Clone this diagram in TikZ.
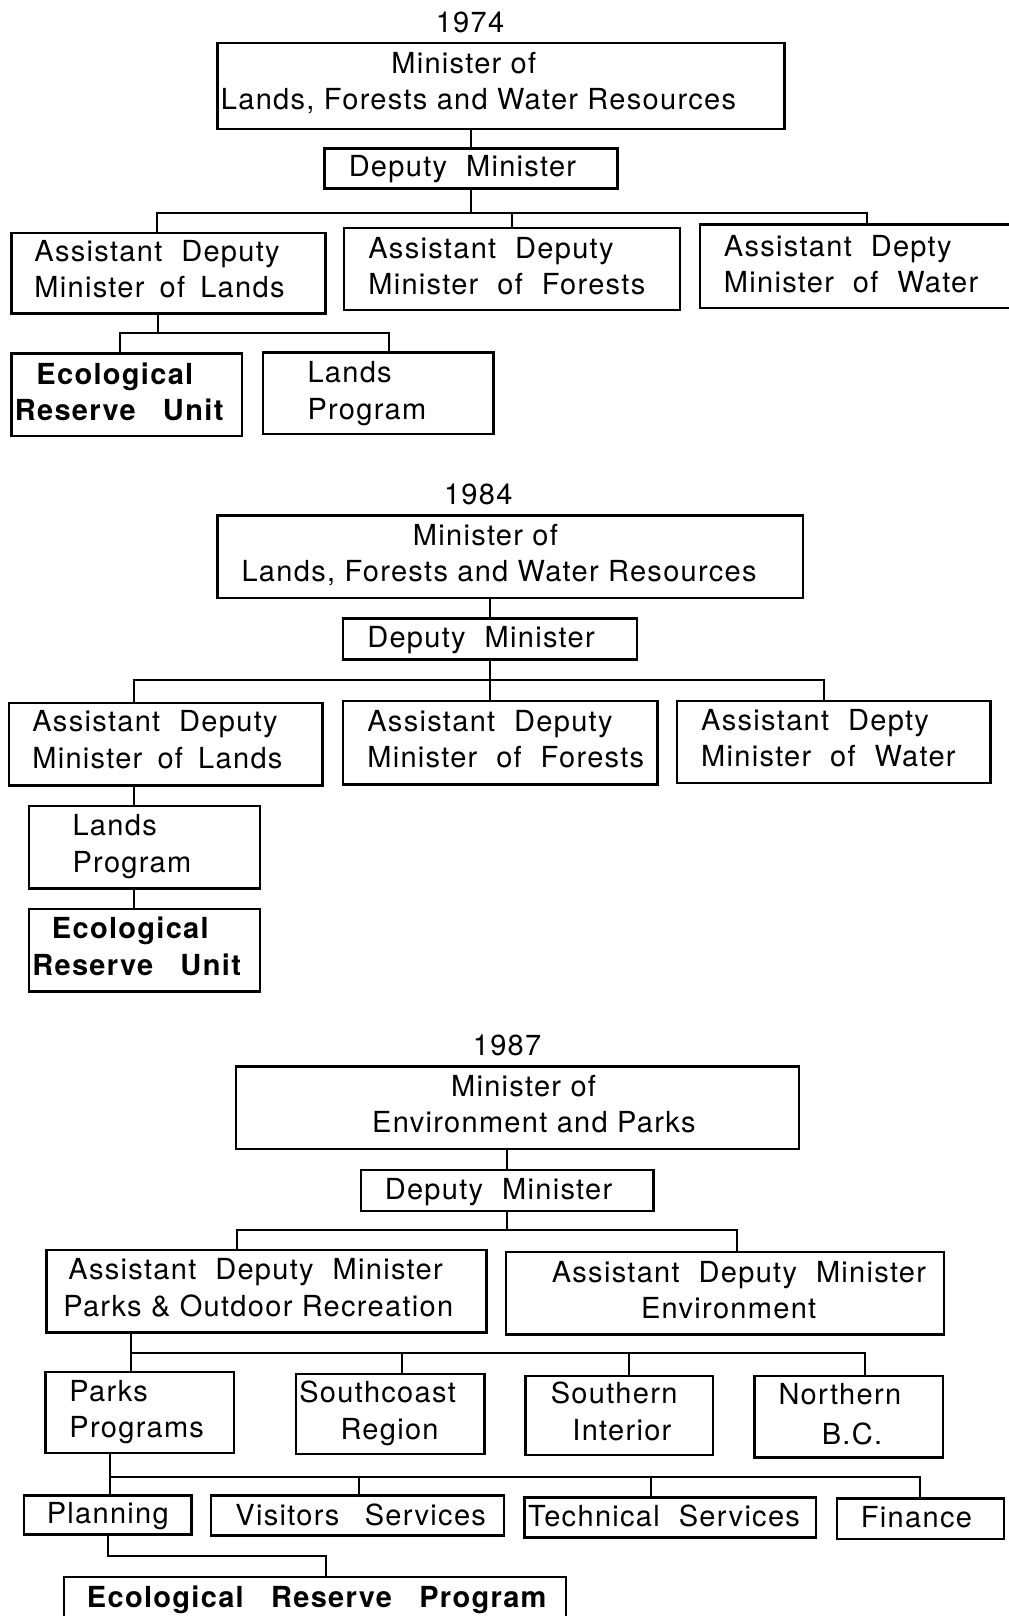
\documentclass[tikz,border=0pt]{standalone}
\usepackage{fontspec}
\setmainfont{TeX Gyre Heros}[LetterSpace=4.5]
\usetikzlibrary{fit}
\newcommand\gp{\hspace{0.33em}}
\newcommand\sgp{\hspace{0.2em}}
\newcommand\bgp{\hspace{0.62em}}
\newcommand\wgp{\hspace{0.55em}}
\newcommand\bx[5]{\node[box,fit={(#2,#3) (#4,#5)}] (#1) {};}
\begin{document}
\begin{tikzpicture}[x=0.5153pt,y=-0.5153pt,
  box/.style={draw,line width=1.2pt,inner sep=0pt},
  conn/.style={line width=1pt},
  txt/.style={inner sep=0pt,anchor=west,text height=10pt,text depth=0pt,font=\fontsize{14.5}{17}\selectfont},
  ctxt/.style={txt,anchor=center},
  btxt/.style={txt,font=\fontsize{14.5}{17}\selectfont\bfseries}]
\useasboundingbox (0,0) rectangle (979,1568);
\fill[white] (0,0) rectangle (979,1568);

% ---------------- 1974 ----------------
\node[ctxt] (y74) at (456,22) {1974};
\bx{m74}{211}{42}{761}{125}
\node[ctxt] (m74a) at (450,62) {Minister of};
\node[txt] (m74b) at (214,97) {Lands, Forests and Water Resources};
\bx{d74}{315}{144}{599}{183}
\node[txt] (d74a) at (338,162) {Deputy\gp{} Minister};
\bx{a74l}{11}{226}{316}{304}
\node[txt] (a74la) at (33,244) {Assistant\gp{} Deputy};
\node[txt] (a74lb) at (33,279) {Minister\sgp{} of\sgp{} Lands};
\bx{a74f}{334}{221}{660}{301}
\node[txt] (a74fa) at (357,241) {Assistant\gp{} Deputy};
\node[txt] (a74fb) at (357,276) {Minister\gp{} of\gp{} Forests};
\bx{a74w}{679}{218}{990}{299}
\node[txt] (a74wa) at (702,239) {Assistant\gp{} Depty};
\node[txt] (a74wb) at (702,274) {Minister\gp{} of\gp{} Water};
\bx{eco74}{11}{343}{235}{423}
\node[btxt] (eco74a) at (35,363) {Ecological};
\node[btxt] (eco74b) at (14,398) {Reserve\bgp{} Unit};
\bx{lp74}{255}{342}{479}{421}
\node[txt] (lp74a) at (298,361) {Lands};
\node[txt] (lp74b) at (298,397) {Program};

\coordinate (b74l) at (152,207);
\coordinate (b74r) at (841,207);
\coordinate (c74m) at (153,323);
\coordinate (c74l) at (116,323);
\coordinate (c74r) at (377,323);
\draw[conn] (d74.north) -- (d74.north |- m74.south);
\draw[conn] (d74.south) -- (d74.south |- b74l);
\draw[conn] (b74l |- a74l.north) -- (b74l) -- (b74r) -- (b74r |- a74w.north);
\draw[conn] (a74f.north) -- (a74f.north |- b74l);
\draw[conn] (c74m |- a74l.south) -- (c74m);
\draw[conn] (c74l |- eco74.north) -- (c74l) -- (c74r) -- (c74r |- lp74.north);

% ---------------- 1984 ----------------
\node[ctxt] (y84) at (464,480) {1984};
\bx{m84}{211}{500}{779}{580}
\node[ctxt] (m84a) at (471,520) {Minister of};
\node[txt] (m84b) at (234,555) {Lands, Forests and Water Resources};
\bx{d84}{333}{600}{618}{640}
\node[txt] (d84a) at (356,619) {Deputy\gp{} Minister};
\bx{a84l}{9}{682}{313}{762}
\node[txt] (a84la) at (31,700) {Assistant\gp{} Deputy};
\node[txt] (a84lb) at (31,736) {Minister\sgp{} of\sgp{} Lands};
\bx{a84f}{333}{680}{638}{761}
\node[txt] (a84fa) at (356,700) {Assistant\gp{} Deputy};
\node[txt] (a84fb) at (356,735) {Minister\gp{} of\gp{} Forests};
\bx{a84w}{657}{680}{961}{760}
\node[txt] (a84wa) at (680,699) {Assistant\gp{} Depty};
\node[txt] (a84wb) at (680,734) {Minister\gp{} of\gp{} Water};
\bx{lp84}{28}{782}{252}{862}
\node[txt] (lp84a) at (70,801) {Lands};
\node[txt] (lp84b) at (70,837) {Program};
\bx{eco84}{28}{882}{252}{962}
\node[btxt] (eco84a) at (50,901) {Ecological};
\node[btxt] (eco84b) at (31,937) {Reserve\bgp{} Unit};

\coordinate (b84l) at (130,660);
\coordinate (b84r) at (800,660);
\draw[conn] (d84.north) -- (d84.north |- m84.south);
\draw[conn] (d84.south) -- (d84.south |- a84f.north);
\draw[conn] (b84l |- a84l.north) -- (b84l) -- (b84r) -- (b84r |- a84w.north);
\draw[conn] (b84l |- a84l.south) -- (b84l |- lp84.north);
\draw[conn] (b84l |- lp84.south) -- (b84l |- eco84.north);

% ---------------- 1987 ----------------
\node[ctxt] (y87) at (492,1014) {1987};
\bx{m87}{229}{1035}{775}{1115}
\node[ctxt] (m87a) at (508,1054) {Minister of};
\node[ctxt] (m87b) at (518,1089) {Environment and Parks};
\bx{d87}{350}{1135}{634}{1175}
\node[txt] (d87a) at (373,1154) {Deputy\gp{} Minister};
\bx{ap87}{45}{1213}{472}{1293}
\node[txt] (ap87a) at (66,1232) {Assistant\gp{} Deputy\gp{} Minister};
\node[txt] (ap87b) at (61,1268) {Parks \& Outdoor Recreation};
\bx{ae87}{491}{1215}{916}{1295}
\node[txt] (ae87a) at (535,1235) {Assistant\gp{} Deputy\gp{} Minister};
\node[ctxt] (ae87b) at (707,1270) {Environment};
\bx{pp87}{44}{1331}{227}{1410}
\node[txt] (pp87a) at (67,1350) {Parks};
\node[txt] (pp87b) at (67,1385) {Programs};
\bx{sc87}{287}{1333}{470}{1411}
\node[txt] (sc87a) at (290,1351) {Southcoast};
\node[txt] (sc87b) at (330,1387) {Region};
\bx{si87}{510}{1335}{692}{1412}
\node[txt] (si87a) at (534,1352) {Southern};
\node[txt] (si87b) at (555,1388) {Interior};
\bx{nb87}{732}{1335}{915}{1414}
\node[txt] (nb87a) at (755,1353) {Northern};
\node[txt] (nb87b) at (797,1392) {B.C.};
\bx{pl87}{23}{1451}{186}{1489}
\node[txt] (pl87a) at (45,1469) {Planning};
\bx{vs87}{205}{1451}{489}{1490}
\node[txt] (vs87a) at (228,1470) {Visitors\wgp{} Services};
\bx{ts87}{509}{1453}{792}{1492}
\node[txt] (ts87a) at (512,1471) {Technical\gp{} Services};
\bx{fi87}{812}{1454}{974}{1493}
\node[txt] (fi87a) at (835,1472) {Finance};
\bx{erp87}{62}{1530}{549}{1575}
\node[btxt] (erp87a) at (84,1550) {Ecological\bgp{} Reserve\bgp{} Program};

\coordinate (b87l) at (230,1193);
\coordinate (b87r) at (715,1193);
\coordinate (e87l) at (127,1313);
\coordinate (e87a) at (390,1313);
\coordinate (e87b) at (610,1313);
\coordinate (e87r) at (839,1313);
\coordinate (f87l) at (107,1433);
\coordinate (f87a) at (348,1433);
\coordinate (f87b) at (632,1433);
\coordinate (f87r) at (893,1433);
\coordinate (g87l) at (105,1510);
\coordinate (g87r) at (316,1510);
\draw[conn] (d87.north) -- (d87.north |- m87.south);
\draw[conn] (d87.south) -- (d87.south |- b87l);
\draw[conn] (b87l |- ap87.north) -- (b87l) -- (b87r) -- (b87r |- ae87.north);
\draw[conn] (e87l |- ap87.south) -- (e87l |- pp87.north);
\draw[conn] (e87l) -- (e87r) -- (e87r |- nb87.north);
\draw[conn] (e87a) -- (e87a |- sc87.north);
\draw[conn] (e87b) -- (e87b |- si87.north);
\draw[conn] (f87l |- pp87.south) -- (f87l |- pl87.north);
\draw[conn] (f87l) -- (f87r) -- (f87r |- fi87.north);
\draw[conn] (f87a) -- (f87a |- vs87.north);
\draw[conn] (f87b) -- (f87b |- ts87.north);
\draw[conn] (g87l |- pl87.south) -- (g87l) -- (g87r) -- (g87r |- erp87.north);
\end{tikzpicture}
\end{document}
